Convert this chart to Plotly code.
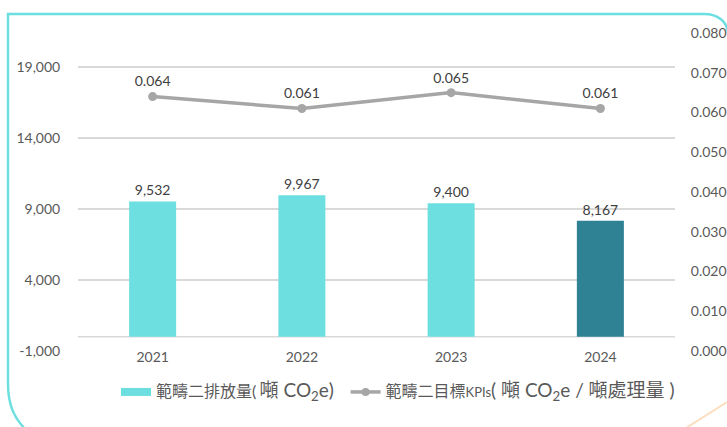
import plotly.graph_objects as go

years = ["2021", "2022", "2023", "2024"]
emissions = [9532, 9967, 9400, 8167]
kpi = [0.064, 0.061, 0.065, 0.061]
bar_colors = ["#6EDFE0", "#6EDFE0", "#6EDFE0", "#2E8294"]
emission_labels = ["9,532", "9,967", "9,400", "8,167"]
kpi_labels = ["0.064", "0.061", "0.065", "0.061"]
left_tick_vals = [-1000, 4000, 9000, 14000, 19000]
left_tick_text = ["-1,000", "4,000", "9,000", "14,000", "19,000"]

W, H = 727, 427
L, R, T, B = 78, 675, 33, 351

def px(x):
    return (x - L) / (R - L)

def py(y):
    return (B - y) / (B - T)

FONT = "Lato, 'Noto Sans CJK TC', sans-serif"
TXT = "#404040"
AX = "#595959"

fig = go.Figure()
fig.add_trace(go.Bar(
    x=years, y=emissions, marker=dict(color=bar_colors, line=dict(width=0)),
    text=emission_labels, textposition="outside", cliponaxis=False,
    textfont=dict(size=14, color=TXT, family=FONT),
    showlegend=False, yaxis="y", width=0.315,
))
fig.add_trace(go.Scatter(
    x=years, y=kpi, mode="lines+markers+text", yaxis="y2",
    line=dict(color="#A6A6A6", width=3.5), marker=dict(color="#A6A6A6", size=9),
    text=kpi_labels, textposition="top center",
    textfont=dict(size=14, color=TXT, family=FONT),
    showlegend=False, cliponaxis=False,
))
# legend entries
fig.add_trace(go.Scatter(
    x=[None], y=[None], mode="lines", line=dict(color="#6EDFE0", width=8),
    name="<span style='font-size:16px'>範疇二排放量(</span> <span style='font-size:19px'>噸 CO<sub>2</sub>e)</span>&nbsp;&nbsp;",
))
fig.add_trace(go.Scatter(
    x=[None], y=[None], mode="lines+markers", yaxis="y2",
    line=dict(color="#A6A6A6", width=3.5), marker=dict(color="#A6A6A6", size=8),
    name="<span style='font-size:16px'>範疇二目標</span>KPIs<span style='font-size:19px'>( 噸 CO<sub>2</sub>e / 噸處理量 )</span>",
))

shapes = []
path = (
    f"M {px(728)},{py(34)} C {px(728)},{py(22)} {px(718)},{py(14)} {px(704)},{py(14)} "
    f"L {px(8)},{py(14)} L {px(8)},{py(383)} "
    f"C {px(8)},{py(405)} {px(14)},{py(418)} {px(26)},{py(430)}"
)
shapes.append(dict(type="path", xref="paper", yref="paper", path=path,
                   line=dict(color="#6EDFE0", width=2.5)))
shapes.append(dict(type="line", xref="paper", yref="paper",
                   x0=px(686), y0=py(428), x1=px(727), y1=py(402),
                   line=dict(color="rgba(250,200,150,0.6)", width=2)))
shapes.append(dict(type="line", xref="paper", yref="y", x0=0, x1=1, y0=0, y1=0,
                   line=dict(color="#D9D9D9", width=1.5), layer="below"))

fig.update_layout(
    width=W, height=H,
    margin=dict(l=L, r=W - R, t=T, b=H - B, autoexpand=False),
    paper_bgcolor="white", plot_bgcolor="white",
    font=dict(family=FONT, color=AX, size=14),
    shapes=shapes,
    xaxis=dict(showgrid=False, showline=False, zeroline=False, automargin=False,
               tickfont=dict(size=14, color=AX), ticks="", ticklabelstandoff=-4),
    yaxis=dict(range=[-1000, 21400], tickmode="array", tickvals=left_tick_vals,
               ticktext=left_tick_text, automargin=False,
               showgrid=True, gridcolor="#D9D9D9", gridwidth=1.5, zeroline=False,
               showline=False, ticks="outside", ticklen=14, tickcolor="rgba(0,0,0,0)",
               tickfont=dict(size=14, color=AX)),
    yaxis2=dict(range=[0, 0.08], dtick=0.01, tickformat=".3f", overlaying="y",
                side="right", showgrid=False, zeroline=False, showline=False,
                automargin=False,
                ticks="outside", ticklen=12, tickcolor="rgba(0,0,0,0)",
                tickfont=dict(size=14, color=AX)),
    legend=dict(orientation="h", x=px(398), xanchor="center", y=py(392), yanchor="middle",
                font=dict(size=13, color=AX, family=FONT), itemwidth=30,
                bgcolor="rgba(0,0,0,0)", tracegroupgap=0),
    bargap=0.68,
)

fig.write_html("out.html", config={"displayModeBar": False},
               post_script="document.body.style.margin='0';")
